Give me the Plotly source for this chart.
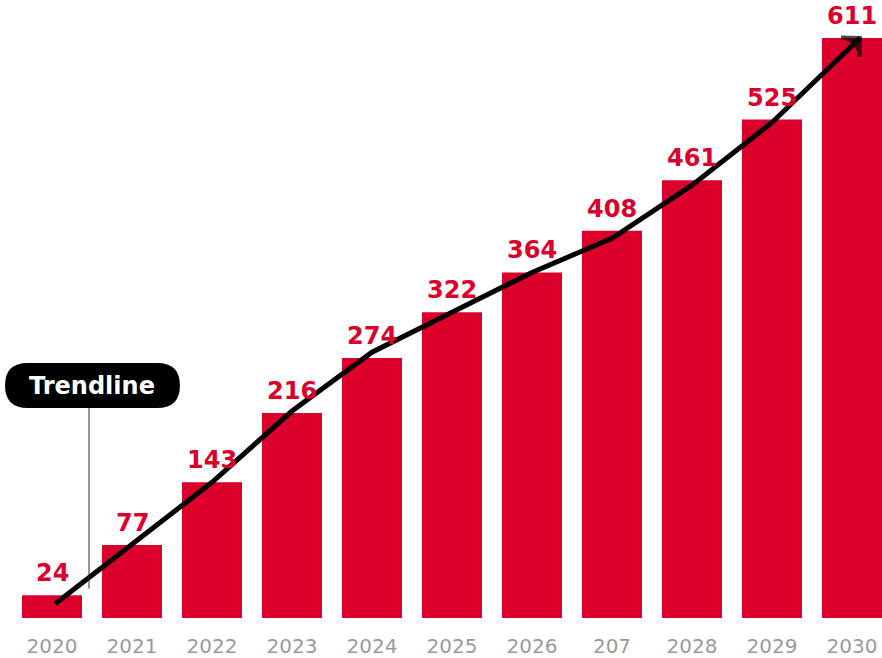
import plotly.graph_objects as go

years = ["2020", "2021", "2022", "2023", "2024", "2025", "2026", "207", "2028", "2029", "2030"]
values = [24, 77, 143, 216, 274, 322, 364, 408, 461, 525, 611]
trend_x = [0.04, 1, 2, 3, 4, 5, 6, 7, 8, 9, 10.1]
trend_values = [15, 77, 143, 218, 280, 322, 364, 400, 456, 522, 611]
trend_label = "Trendline"

RED = "#DA002B"
FONT = "DejaVu Sans"
YMAX = 651
xs = list(range(len(years)))

fig = go.Figure()
fig.add_trace(go.Bar(
    x=xs, y=values, marker_color=RED, width=0.75, marker_line_width=0,
    hoverinfo="skip",
))
for xv, v in zip(xs, values):
    fig.add_annotation(x=xv, y=v, xref="x", yref="y", text=str(v), showarrow=False,
                       xanchor="center", yanchor="bottom", yshift=6,
                       font=dict(family=FONT, size=24, color=RED, weight="bold"))
fig.add_trace(go.Scatter(
    x=trend_x, y=trend_values, mode="lines+markers",
    line=dict(color="black", width=5),
    marker=dict(symbol=["circle"] * (len(trend_x) - 1) + ["arrow-wide-open"],
                size=[0] * (len(trend_x) - 1) + [19], angleref="previous",
                color="black", line=dict(color="black", width=4)),
    cliponaxis=False, hoverinfo="skip",
))

# pill-shaped label box (paper coords; plot area 870x618 px)
x0, x1, y0, y1 = -0.008, 0.193, 0.3398, 0.4126
rx, ry = 0.0259, 0.0364
path = (f"M {x0+rx},{y1} L {x1-rx},{y1} Q {x1},{y1} {x1},{(y0+y1)/2} "
        f"Q {x1},{y0} {x1-rx},{y0} L {x0+rx},{y0} Q {x0},{y0} {x0},{(y0+y1)/2} "
        f"Q {x0},{y1} {x0+rx},{y1} Z")
fig.add_shape(type="path", path=path, xref="paper", yref="paper",
              fillcolor="black", line=dict(color="black", width=0))
fig.add_shape(type="line", xref="x", yref="y", x0=0.4625, x1=0.4625,
              y0=31, y1=y0 * YMAX, line=dict(color="#333333", width=1))
fig.add_annotation(x=(x0 + x1) / 2, y=(y0 + y1) / 2, xref="paper", yref="paper",
                   xanchor="center", yanchor="middle",
                   text=trend_label, showarrow=False,
                   font=dict(family=FONT, size=24, color="white", weight="bold"))

fig.update_layout(
    width=882, height=658,
    margin=dict(l=12, r=0, t=0, b=40),
    plot_bgcolor="white", paper_bgcolor="white",
    showlegend=False,
    xaxis=dict(range=[-0.5, 10.375], tickmode="array", tickvals=xs, ticktext=years,
               showgrid=False, zeroline=False, showline=False, ticks="",
               ticklabelstandoff=14,
               tickfont=dict(family=FONT, size=20, color="#9A9A9A")),
    yaxis=dict(range=[0, YMAX], visible=False),
)
fig.write_html("out.html", config={"displayModeBar": False},
               post_script="document.body.style.margin='0';document.body.style.overflow='hidden';")
